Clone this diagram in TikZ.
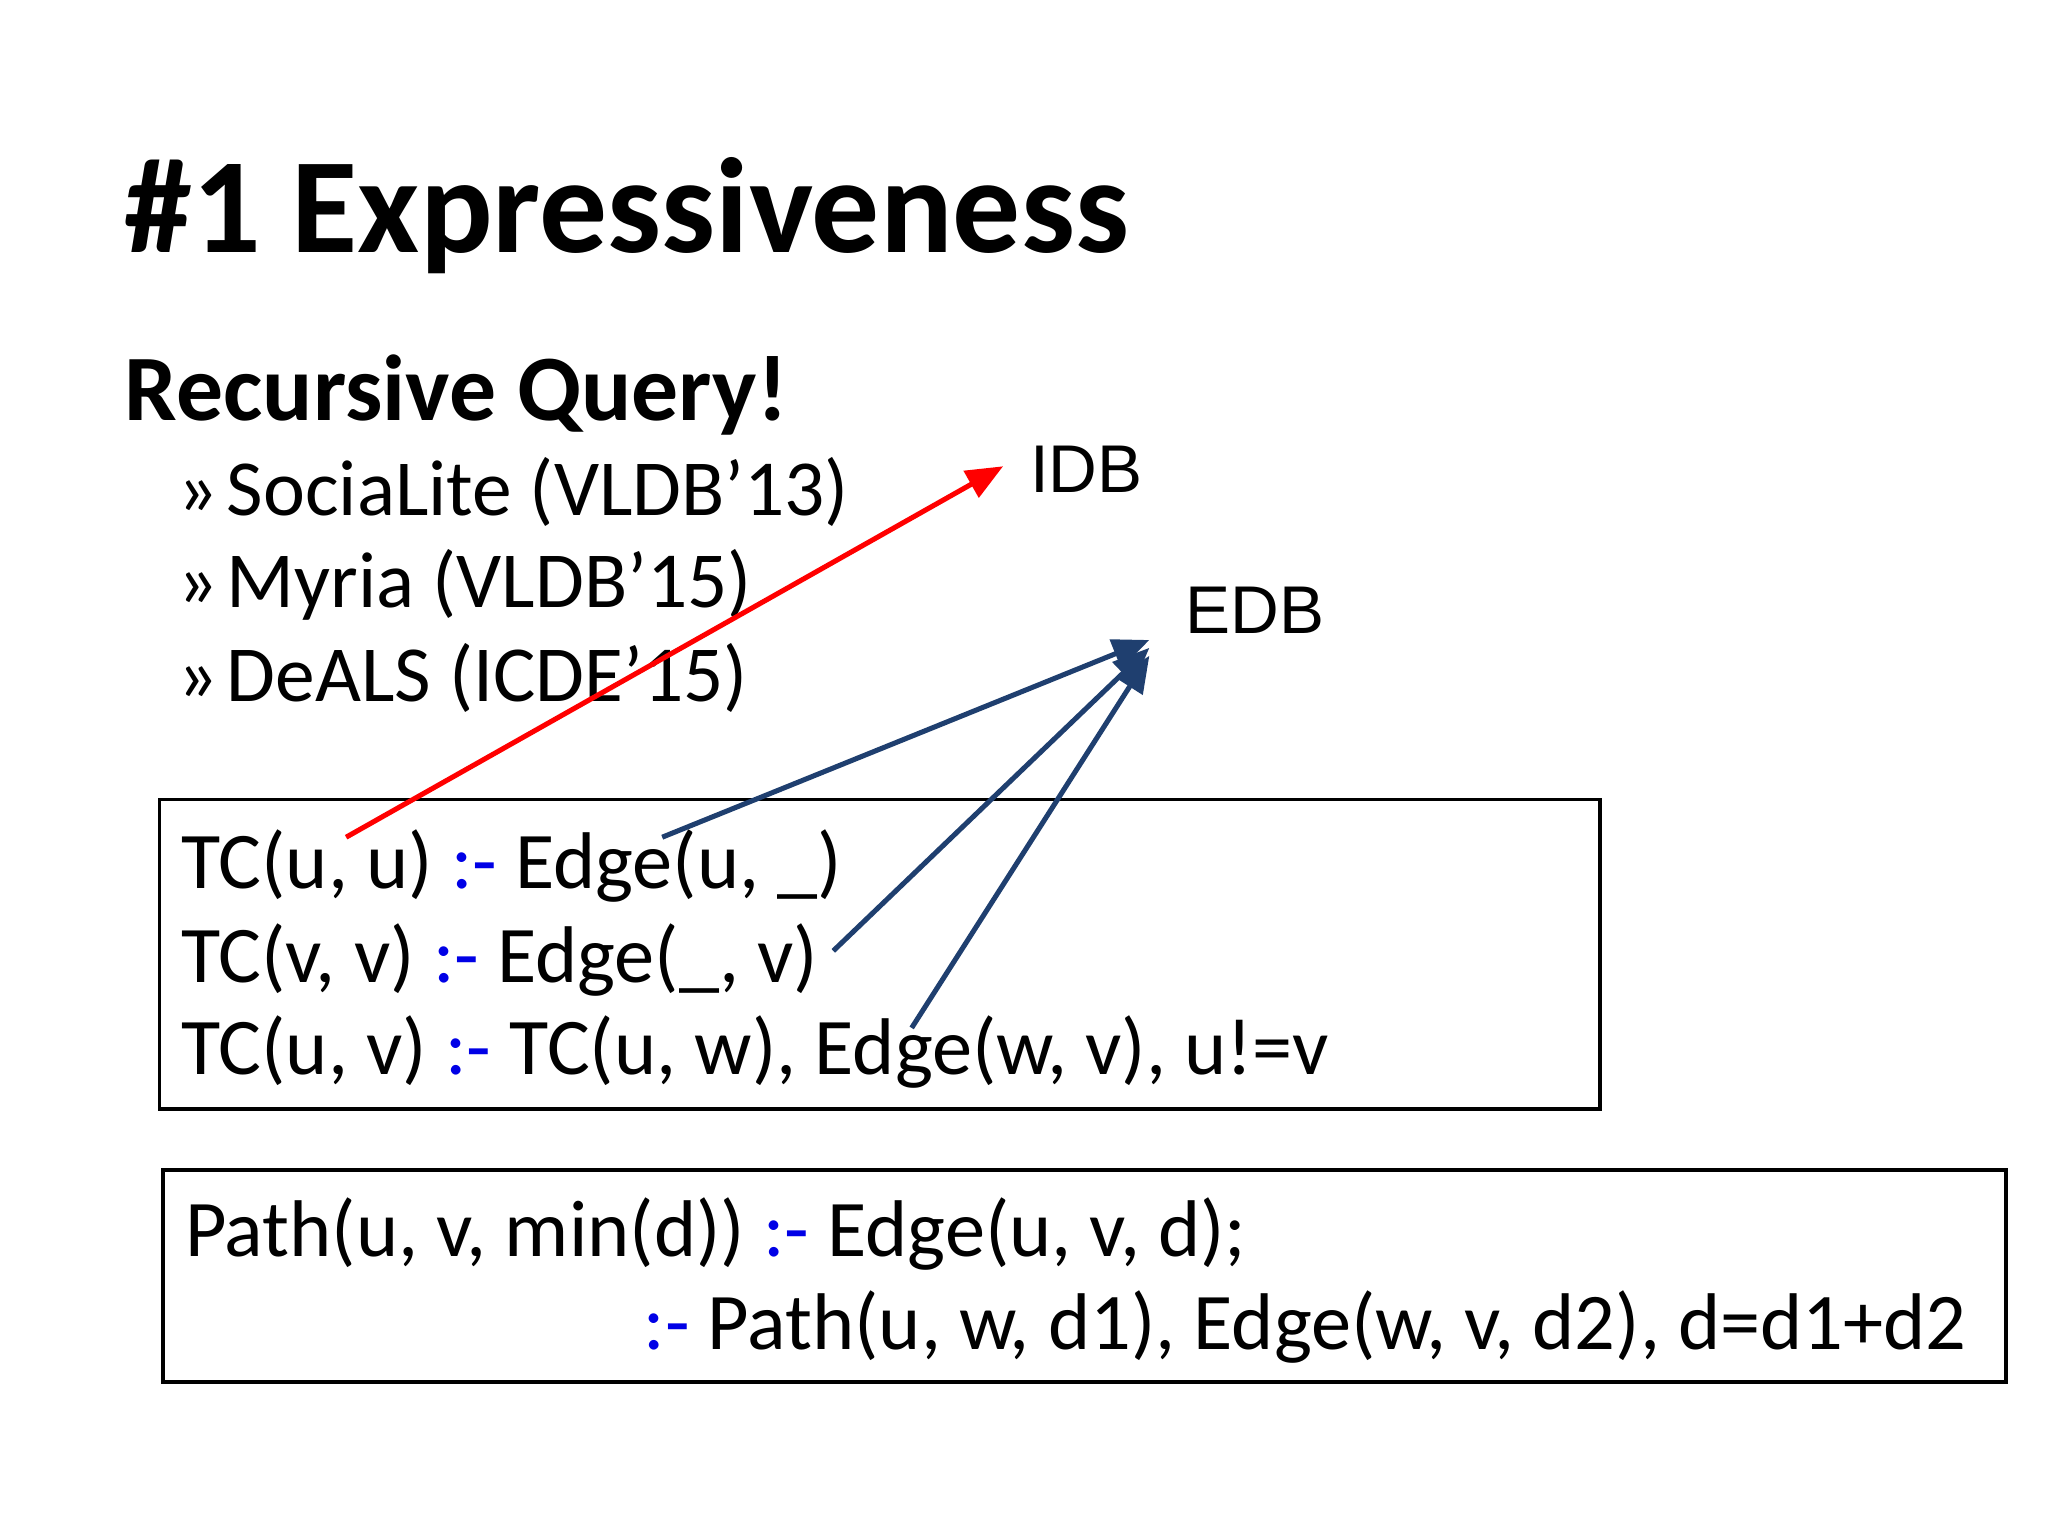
\documentclass[tikz,border=0pt]{standalone}
\usepackage{fontspec}
\setmainfont{Carlito}
\newfontfamily\arialf{Liberation Sans}
\usetikzlibrary{arrows.meta}
\definecolor{kw}{RGB}{0,0,230}
\definecolor{arrb}{RGB}{31,63,111}
\newcommand{\cd}{\textcolor{kw}{:-}}
\begin{document}
\begin{tikzpicture}[x=0.01cm,y=-0.01cm,
  txt/.style={anchor=base west,inner sep=0pt},
  body/.style={txt,font=\fontsize{17.5}{21}\selectfont},
  bul/.style={txt,font=\fontsize{17.3}{21}\selectfont},
  lbl/.style={txt,font=\arialf\fontsize{14.7}{17}\selectfont},
  boxst/.style={draw,line width=0.8pt},
  redarr/.style={draw=red,line width=1.1pt,-{Triangle[length=8pt,width=6.5pt]}},
  bluarr/.style={draw=arrb,line width=1.1pt,-{Triangle[length=8pt,width=6.5pt]}}]
\useasboundingbox (0,0) rectangle (1568,1176);
\node[txt,font=\bfseries\fontsize{29.5}{34}\selectfont] (title) at (95,193) {\#1 Expressiveness};
\node[txt,font=\bfseries\fontsize{20.4}{24}\selectfont] (sub) at (95,322) {Recursive Query!};
\foreach \y/\t [count=\i] in {395/{SociaLite (VLDB’13)},465/{Myria (VLDB’15)},537/{DeALS (ICDE’15)}}{
  \node[bul] (b\i) at (135,\y) {»};
  \node[bul] (t\i) at (173,\y) {\t};
}
\node[lbl] (idb) at (788,377) {IDB};
\node[lbl] (edb) at (907,485) {EDB};
\draw[boxst] (122,612) rectangle (1225,849);
\draw[boxst] (125,896) rectangle (1536,1058);
\node[body] (l1) at (138,680) {TC(u, u) \cd{} Edge(u, \_)};
\node[body] (l2) at (138,752) {TC(v, v) \cd{} Edge(\_, v)};
\node[body] (l3) at (138,823) {TC(u, v) \cd{} TC(u, w), Edge(w, v), u!=v};
\node[body] (p1) at (141,962) {Path(u, v, min(d)) \cd{} Edge(u, v, d);};
\node[body] (p2) at (492,1033) {\cd{} Path(u, w, d1), Edge(w, v, d2), d=d1+d2};
\coordinate (r0) at (265,641);
\coordinate (r1) at (768,357);
\coordinate (s1) at (507,641);
\coordinate (s2) at (638,728);
\coordinate (s3) at (698,787);
\coordinate (e1) at (880,490);
\coordinate (e2) at (880,496);
\coordinate (e3) at (880,502);
\draw[redarr] (r0) -- (r1);
\draw[bluarr] (s1) -- (e1);
\draw[bluarr] (s2) -- (e2);
\draw[bluarr] (s3) -- (e3);
\end{tikzpicture}
\end{document}
